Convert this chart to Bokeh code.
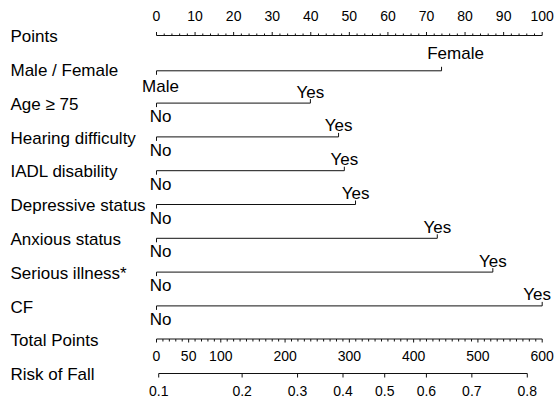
import numpy as np
from bokeh.plotting import figure
from bokeh.models import Range1d
from bokeh.embed import file_html
from bokeh.resources import INLINE
from bokeh.core.properties import value

# ---- nomogram data -------------------------------------------------------
variables = ["Male / Female", "Age \u2265 75", "Hearing difficulty", "IADL disability",
             "Depressive status", "Anxious status", "Serious illness*", "CF"]
low_labels = ["Male", "No", "No", "No", "No", "No", "No", "No"]
high_labels = ["Female", "Yes", "Yes", "Yes", "Yes", "Yes", "Yes", "Yes"]
low_points = [0, 0, 0, 0, 0, 0, 0, 0]
high_points = [73.9, 39.9, 47.2, 48.7, 51.6, 72.8, 87.2, 100]

points_ticks = [0, 10, 20, 30, 40, 50, 60, 70, 80, 90, 100]
total_ticks = [0, 50, 100, 200, 300, 400, 500, 600]
total_max = 600
risk_ticks = [0.1, 0.2, 0.3, 0.4, 0.5, 0.6, 0.7, 0.8]
risk_labels = ["0.1", "0.2", "0.3", "0.4", "0.5", "0.6", "0.7", "0.8"]
# logistic model: total points at 50% risk, total points per logit unit
total_at_half = 355.0
total_per_logit = 160.0

# ---- layout (screen pixels) ---------------------------------------------
W, H = 555, 399
PX0, PX_PER_PT = 156.0, 3.857
FONT = value("Liberation Sans")
BIG, SMALL = "17px", "14px"
INK = "#111111"
TEXT_SHIFT = -5.0   # baseline correction for the text renderer

title_y = [35.0 + 33.8 * i for i in range(11)]
row_y = list(title_y)
row_y[1] += 1.5
row_y[9] = 338.5

p = figure(width=W, height=H, output_backend="svg", toolbar_location=None,
           x_range=Range1d(-PX0 / PX_PER_PT, (W - PX0) / PX_PER_PT),
           y_range=Range1d(H, 0),
           x_axis_location=None, y_axis_location=None,
           min_border=0, min_border_left=0, min_border_right=0,
           min_border_top=0, min_border_bottom=0)
p.grid.visible = False
p.outline_line_color = None
p.background_fill_color = "white"
p.border_fill_color = "white"

def txt(x, y, t, size, align="center", xoff=0):
    p.text(x=x, y=[v + TEXT_SHIFT for v in y], text=t, text_font=FONT,
           text_font_size=size, text_align=align, text_baseline="alphabetic",
           text_color="black", x_offset=xoff)

# row titles on the left
titles = ["Points"] + variables + ["Total Points", "Risk of Fall"]
x_left = (10 - PX0) / PX_PER_PT
txt([x_left] * len(titles), [y + 6.2 for y in title_y], titles, BIG, align="left")

# Points scale (0-100), ticks pointing up
y0 = row_y[0]
p.segment(x0=[0], y0=[y0], x1=[100], y1=[y0], line_color=INK, line_width=1)
minor = [v for v in np.arange(0, 101, 2) if v % 10 != 0]
p.segment(x0=minor, y0=[y0] * len(minor), x1=minor, y1=[y0 - 2] * len(minor),
          line_color=INK, line_width=1)
p.segment(x0=points_ticks, y0=[y0] * len(points_ticks), x1=points_ticks,
          y1=[y0 - 3.5] * len(points_ticks), line_color=INK, line_width=1)
txt(points_ticks, [y0 - 14.5] * len(points_ticks), [str(v) for v in points_ticks], SMALL)

# one line per predictor: low level tick down / label below, high level tick up / label above
for i, name in enumerate(variables):
    y = row_y[i + 1]
    lo, hi = low_points[i], high_points[i]
    p.segment(x0=[lo], y0=[y], x1=[hi], y1=[y], line_color=INK, line_width=1)
    p.segment(x0=[lo], y0=[y], x1=[lo], y1=[y + 4], line_color=INK, line_width=1)
    p.segment(x0=[hi], y0=[y], x1=[hi], y1=[y - 4], line_color=INK, line_width=1)
    if i == 0:
        txt([lo], [y + 21], [low_labels[i]], BIG, xoff=4)
        txt([hi], [y - 12.5], [high_labels[i]], BIG, xoff=14)
    else:
        txt([lo], [y + 18.5], [low_labels[i]], BIG, xoff=4)
        hx = -5 if hi >= 100 else 0
        txt([hi], [y - 6], [high_labels[i]], BIG, xoff=hx)

# Total Points scale, drawn on the same width (0-600), ticks pointing down
to_pts = 100.0 / total_max
yt = row_y[9]
p.segment(x0=[0], y0=[yt], x1=[total_max * to_pts], y1=[yt], line_color=INK, line_width=1)
tminor = [v * to_pts for v in range(0, total_max + 1, 10) if v not in total_ticks]
p.segment(x0=tminor, y0=[yt] * len(tminor), x1=tminor, y1=[yt + 2.5] * len(tminor),
          line_color=INK, line_width=1)
tmaj = [v * to_pts for v in total_ticks]
p.segment(x0=tmaj, y0=[yt] * len(tmaj), x1=tmaj, y1=[yt + 3.5] * len(tmaj),
          line_color=INK, line_width=1)
txt(tmaj, [360.7] * len(tmaj), [str(v) for v in total_ticks], SMALL)

# Risk of Fall scale: logistic transform of total points
yr = row_y[10]
risk_tot = [total_at_half + total_per_logit * np.log(r / (1 - r)) for r in risk_ticks]
rx = [v * to_pts for v in risk_tot]
p.segment(x0=[rx[0]], y0=[yr], x1=[rx[-1]], y1=[yr], line_color=INK, line_width=1)
p.segment(x0=rx, y0=[yr] * len(rx), x1=rx, y1=[yr + 4] * len(rx),
          line_color=INK, line_width=1)
txt(rx, [yr + 22] * len(rx), risk_labels, SMALL)

open("out.html", "w").write(file_html(p, INLINE))
